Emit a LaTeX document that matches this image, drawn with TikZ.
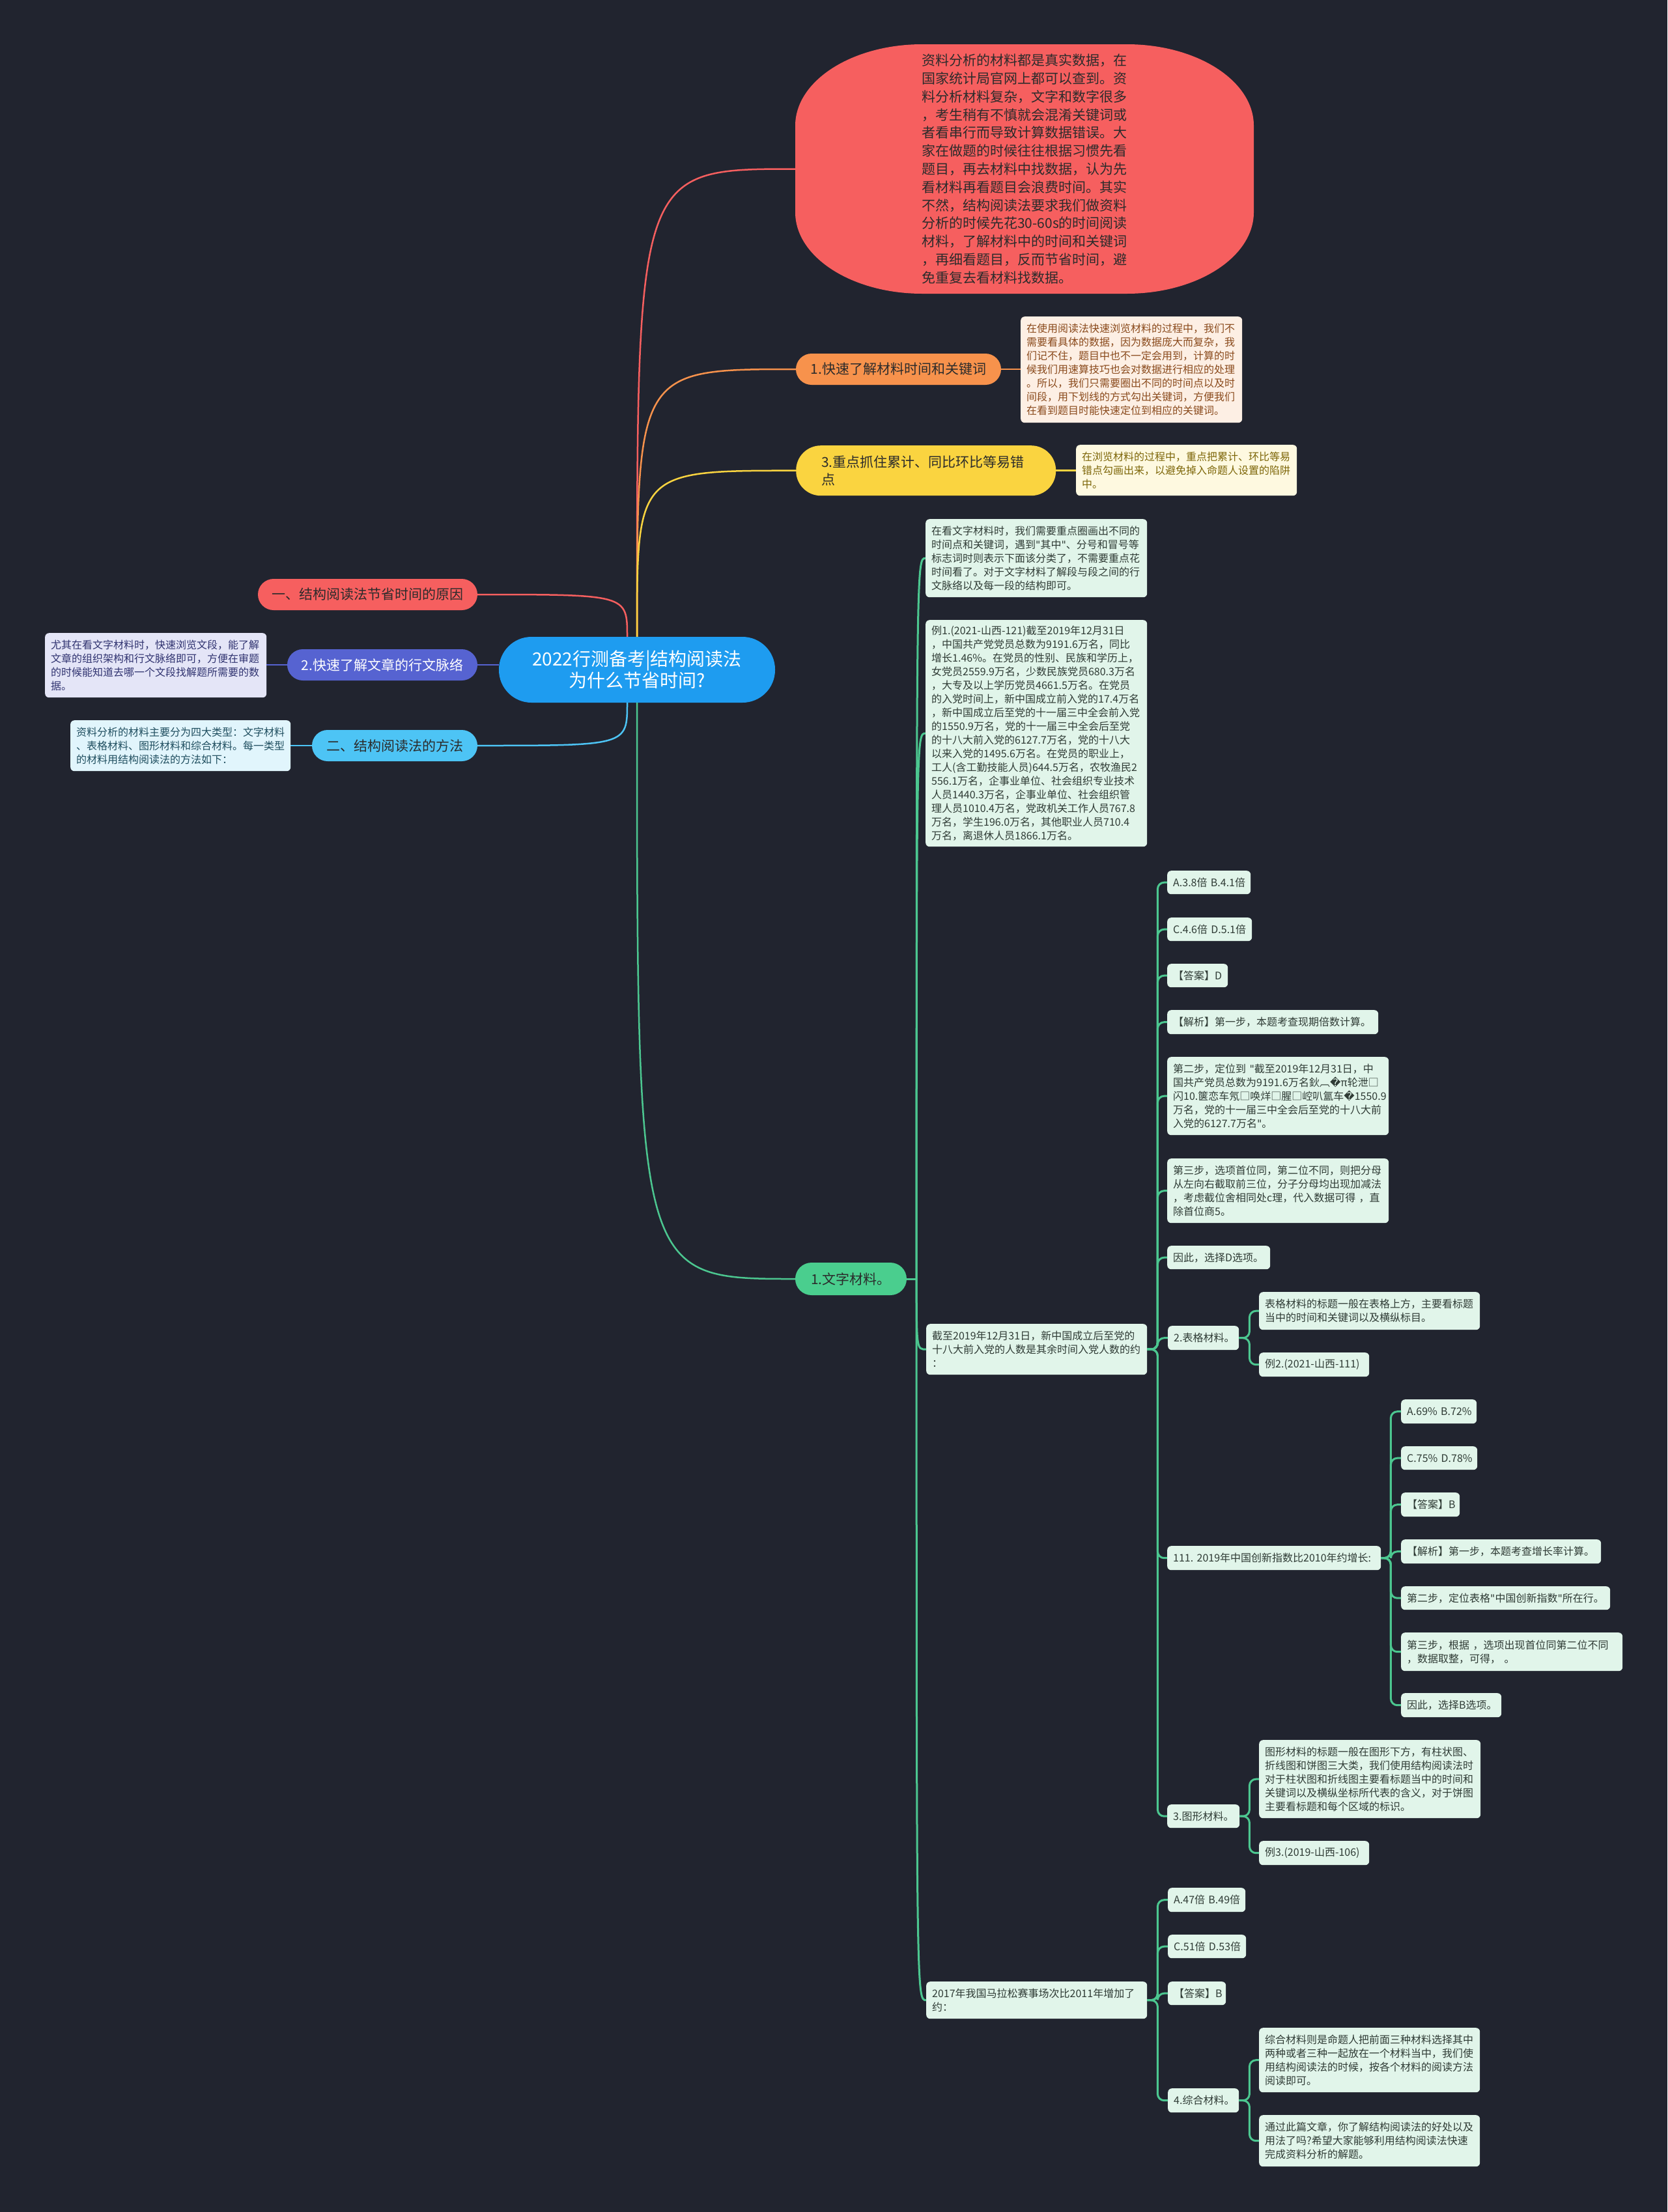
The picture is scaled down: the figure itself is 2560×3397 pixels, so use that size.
\documentclass[tikz,border=0pt]{standalone}
\usepackage{fontspec}
\setmainfont{Noto Sans CJK SC}
\newfontfamily\symfnt{DejaVu Sans}
\usetikzlibrary{positioning}
\definecolor{bgdark}{HTML}{21242F}
\definecolor{redfill}{HTML}{F65F5F}
\definecolor{orangefill}{HTML}{F7924C}
\definecolor{yellowfill}{HTML}{FAD440}
\definecolor{rootblue}{HTML}{1E9CF0}
\definecolor{indigofill}{HTML}{5663D1}
\definecolor{skyfill}{HTML}{4DC4F5}
\definecolor{greenfill}{HTML}{4ACE8E}
\definecolor{linegreen}{HTML}{4CC790}
\definecolor{mintfill}{HTML}{E1F5EA}
\definecolor{minttext}{HTML}{2F3B35}
\definecolor{pilltext}{HTML}{2B2B2B}
\definecolor{peachfill}{HTML}{FDEFE4}
\definecolor{peachtext}{HTML}{8A4A1C}
\definecolor{creamfill}{HTML}{FEF9E0}
\definecolor{creamtext}{HTML}{7D6608}
\definecolor{lavfill}{HTML}{E4E5F7}
\definecolor{lavtext}{HTML}{303370}
\definecolor{icefill}{HTML}{E1F5FC}
\definecolor{icetext}{HTML}{1F4E5F}
\newcommand{\rep}{{\symfnt\symbol{"FFFD}}}
\newcommand{\dq}{{\symfnt\symbol{"22}}}
\tikzset{
  pillnode/.style={rounded corners=24pt, minimum height=48pt, inner sep=0pt,
    text=pilltext, font=\fontsize{21}{26.7}\selectfont},
  notebox/.style={rounded corners=6pt, anchor=north west, align=left,
    inner xsep=9pt, inner ysep=4pt, font=\fontsize{16}{21}\selectfont},
  leafbox/.style={notebox, fill=mintfill, text=minttext},
  greenline/.style={draw=linegreen, line width=3pt, rounded corners=10pt},
  rootline/.style={line width=2.5pt},
}

\begin{document}
\begin{tikzpicture}[x=1pt,y=-1pt]
\useasboundingbox (0,0) rectangle (2560,3397);
\fill[bgdark] (0,0) rectangle (2560,3397);

% centre topic
\node[pillnode, fill=rootblue, text=white, minimum width=424pt, minimum height=101pt,
  rounded corners=50pt, align=center, font=\fontsize{28}{33}\selectfont]
  (root) at (978,1028.5) {2022行测备考|结构阅读法\\为什么节省时间?};

% red balloon on top
\fill[redfill] (1416,68) -- (1730,68) .. controls (1837.7,68) and (1925,124) .. (1925,193)
  -- (1925,326) .. controls (1925,395) and (1837.7,451) .. (1730,451)
  -- (1416,451) .. controls (1308.3,451) and (1221,395) .. (1221,326)
  -- (1221,193) .. controls (1221,124) and (1308.3,68) .. (1416,68) -- cycle;
\node[minimum width=704pt, minimum height=383pt, inner sep=0pt, align=left,
  text=pilltext, font=\fontsize{21}{27.8}\selectfont] (why) at (1573,259.5)
  {资料分析的材料都是真实数据，在\\国家统计局官网上都可以查到。资\\料分析材料复杂，文字和数字很多\\，考生稍有不慎就会混淆关键词或\\者看串行而导致计算数据错误。大\\家在做题的时候往往根据习惯先看\\题目，再去材料中找数据，认为先\\看材料再看题目会浪费时间。其实\\不然，结构阅读法要求我们做资料\\分析的时候先花30-60s的时间阅读\\材料，了解材料中的时间和关键词\\，再细看题目，反而节省时间，避\\免重复去看材料找数据。};

% right branches
\node[pillnode, fill=orangefill, minimum width=315pt] (kuaisu) at (1379.5,567) {1.快速了解材料时间和关键词};
\node[notebox, fill=peachfill, text=peachtext, text width=322pt, minimum height=163pt] (kuaisunote) at (1567,486)
  {在使用阅读法快速浏览材料的过程中，我们不\\需要看具体的数据，因为数据庞大而复杂，我\\们记不住，题目中也不一定会用到，计算的时\\候我们用速算技巧也会对数据进行相应的处理\\。所以，我们只需要圈出不同的时间点以及时\\间段，用下划线的方式勾出关键词，方便我们\\在看到题目时能快速定位到相应的关键词。};
\node[pillnode, fill=yellowfill, anchor=north west, minimum width=399pt, minimum height=77pt,
  rounded corners=38pt, align=left, text width=321pt, inner xsep=39pt] (zhongdian) at (1222,684)
  {3.重点抓住累计、同比环比等易错\\点};
\node[notebox, fill=creamfill, text=creamtext, text width=321pt, minimum height=78pt] (zhongdiannote) at (1652,683)
  {在浏览材料的过程中，重点把累计、环比等易\\错点勾画出来，以避免掉入命题人设置的陷阱\\中。};
\node[pillnode, fill=greenfill, minimum width=171pt, minimum height=50pt, rounded corners=25pt] (wenzi) at (1306.5,1964) {1.文字材料。};

% left branches
\node[pillnode, fill=redfill, minimum width=337pt] (yuanyin) at (564.5,913) {一、结构阅读法节省时间的原因};
\node[pillnode, fill=indigofill, text=white, minimum width=292pt] (mailuo) at (587,1021) {2.快速了解文章的行文脉络};
\node[notebox, fill=lavfill, text=lavtext, text width=322pt, minimum height=99pt] (mailuonote) at (69,972)
  {尤其在看文字材料时，快速浏览文段，能了解\\文章的组织架构和行文脉络即可，方便在审题\\的时候能知道去哪一个文段找解题所需要的数\\据。};
\node[pillnode, fill=skyfill, minimum width=254pt] (fangfa) at (606,1145) {二、结构阅读法的方法};
\node[notebox, fill=icefill, text=icetext, text width=320pt, minimum height=78pt] (fangfanote) at (108,1106)
  {资料分析的材料主要分为四大类型：文字材料\\、表格材料、图形材料和综合材料。每一类型\\的材料用结构阅读法的方法如下：};

% text material
\node[leafbox, text width=322pt, minimum height=120pt] (wzjs) at (1421,797)
  {在看文字材料时，我们需要重点圈画出不同的\\时间点和关键词，遇到\dq 其中\dq 、分号和冒号等\\标志词时则表示下面该分类了，不需要重点花\\时间看了。对于文字材料了解段与段之间的行\\文脉络以及每一段的结构即可。};
\node[leafbox, text width=322pt, minimum height=348pt] (li1) at (1421,952)
  {例1.(2021-山西-121)截至2019年12月31日\\，中国共产党党员总数为9191.6万名，同比\\增长1.46\%。在党员的性别、民族和学历上，\\女党员2559.9万名，少数民族党员680.3万名\\，大专及以上学历党员4661.5万名。在党员\\的入党时间上，新中国成立前入党的17.4万名\\，新中国成立后至党的十一届三中全会前入党\\的1550.9万名，党的十一届三中全会后至党\\的十八大前入党的6127.7万名，党的十八大\\以来入党的1495.6万名。在党员的职业上，\\工人(含工勤技能人员)644.5万名，农牧渔民2\\556.1万名，企事业单位、社会组织专业技术\\人员1440.3万名，企事业单位、社会组织管\\理人员1010.4万名，党政机关工作人员767.8\\万名，学生196.0万名，其他职业人员710.4\\万名，离退休人员1866.1万名。};
\node[leafbox, text width=321pt, minimum height=78pt] (jiezhi) at (1422,2033)
  {截至2019年12月31日，新中国成立后至党的\\十八大前入党的人数是其余时间入党人数的约\\：};
\node[leafbox, text width=321pt, minimum height=57pt] (malasong) at (1422,3043)
  {2017年我国马拉松赛事场次比2011年增加了\\约：};

% question 1
\node[leafbox, text width=110pt, minimum height=36pt] (q1a) at (1792,1337) {A.3.8倍~B.4.1倍};
\node[leafbox, text width=112pt, minimum height=36pt] (q1b) at (1792,1409) {C.4.6倍~D.5.1倍};
\node[leafbox, text width=75pt, minimum height=36pt] (q1c) at (1792,1480) {【答案】D};
\node[leafbox, text width=306pt, minimum height=37pt] (q1d) at (1792,1551) {【解析】第一步，本题考查现期倍数计算。};
\node[leafbox, text width=322pt, minimum height=120pt] (q1e) at (1792,1623)
  {第二步，定位到~\dq 截至2019年12月31日，中\\国共产党员总数为9191.6万名鈥︹\rep π轮泄□\\闪10.箧恋车氖□唤烊□腥□崆叭氲车\rep 1550.9\\万名，党的十一届三中全会后至党的十八大前\\入党的6127.7万名\dq 。};
\node[leafbox, text width=322pt, minimum height=99pt] (q1f) at (1792,1779)
  {第三步，选项首位同，第二位不同，则把分母\\从左向右截取前三位，分子分母均出现加减法\\，考虑截位舍相同处c理，代入数据可得~，直\\除首位商5。};
\node[leafbox, text width=140pt, minimum height=36pt] (q1g) at (1792,1913) {因此，选择D选项。};
\node[leafbox, text width=91pt, minimum height=37pt] (biaoge) at (1793,2036) {2.表格材料。};
\node[leafbox, text width=310pt, minimum height=37pt] (q2) at (1792,2374) {111.~2019年中国创新指数比2010年约增长:};
\node[leafbox, text width=93pt, minimum height=36pt] (tuxing) at (1792,2771) {3.图形材料。};

% table material
\node[leafbox, text width=321pt, minimum height=58pt] (bg1) at (1933,1984)
  {表格材料的标题一般在表格上方，主要看标题\\当中的时间和关键词以及横纵标目。};
\node[leafbox, text width=151pt, minimum height=37pt] (bg2) at (1933,2077) {例2.(2021-山西-111)};

% question 2
\node[leafbox, text width=98pt, minimum height=37pt] (r1) at (2151,2149) {A.69\%~B.72\%};
\node[leafbox, text width=99pt, minimum height=36pt] (r2) at (2151,2221) {C.75\%~D.78\%};
\node[leafbox, text width=72pt, minimum height=37pt] (r3) at (2151,2292) {【答案】B};
\node[leafbox, text width=289pt, minimum height=37pt] (r4) at (2151,2364) {【解析】第一步，本题考查增长率计算。};
\node[leafbox, text width=303pt, minimum height=36pt] (r5) at (2151,2436) {第二步，定位表格\dq 中国创新指数\dq 所在行。};
\node[leafbox, text width=322pt, minimum height=59pt] (r6) at (2151,2507)
  {第三步，根据~，选项出现首位同第二位不同\\，数据取整，可得，~。};
\node[leafbox, text width=136pt, minimum height=37pt] (r7) at (2151,2600) {因此，选择B选项。};

% figure material
\node[leafbox, text width=322pt, minimum height=120pt] (tx1) at (1933,2672)
  {图形材料的标题一般在图形下方，有柱状图、\\折线图和饼图三大类，我们使用结构阅读法时\\对于柱状图和折线图主要看标题当中的时间和\\关键词以及横纵坐标所代表的含义，对于饼图\\主要看标题和每个区域的标识。};
\node[leafbox, text width=151pt, minimum height=37pt] (tx2) at (1933,2827) {例3.(2019-山西-106)};

% question 3 and mixed material
\node[leafbox, text width=101pt, minimum height=37pt] (s1) at (1793,2899) {A.47倍~B.49倍};
\node[leafbox, text width=102pt, minimum height=36pt] (s2) at (1793,2971) {C.51倍~D.53倍};
\node[leafbox, text width=71pt, minimum height=36pt] (s3) at (1793,3043) {【答案】B};
\node[leafbox, text width=91pt, minimum height=37pt] (zonghe) at (1793,3207) {4.综合材料。};
\node[leafbox, text width=321pt, minimum height=99pt] (zh1) at (1933,3114)
  {综合材料则是命题人把前面三种材料选择其中\\两种或者三种一起放在一个材料当中，我们使\\用结构阅读法的时候，按各个材料的阅读方法\\阅读即可。};
\node[leafbox, text width=321pt, minimum height=79pt] (zh2) at (1933,3248)
  {通过此篇文章，你了解结构阅读法的好处以及\\用法了吗?希望大家能够利用结构阅读法快速\\完成资料分析的解题。};

% connectors from the centre topic
\coordinate (rootnw) at ([xshift=-15pt]root.north);
\coordinate (rootsw) at ([xshift=-15pt]root.south);
\draw[rootline, redfill] (root.north) .. controls (root.north |- why.west) .. (why.west);
\draw[rootline, orangefill] (root.north) .. controls (root.north |- kuaisu.west) .. (kuaisu.west);
\draw[rootline, yellowfill] (root.north) .. controls (root.north |- zhongdian.west) .. (zhongdian.west);
\draw[rootline, linegreen] (root.south) .. controls (root.south |- wenzi.west) .. (wenzi.west);
\draw[rootline, redfill] (rootnw) .. controls (rootnw |- yuanyin.east) .. (yuanyin.east);
\draw[rootline, indigofill] (mailuo.east) -- (mailuo.east -| root.west);
\draw[rootline, skyfill] (rootsw) .. controls (rootsw |- fangfa.east) .. (fangfa.east);

% branch to note
\draw[rootline, orangefill] (kuaisu.east) -- (kuaisu.east -| kuaisunote.west);
\draw[rootline, yellowfill] (zhongdian.east) -- (zhongdian.east -| zhongdiannote.west);
\draw[rootline, indigofill] (mailuo.west) -- (mailuo.west -| mailuonote.east);
\draw[rootline, skyfill] (fangfa.west) -- (fangfa.west -| fangfanote.east);

% text material tree
\coordinate (wzj) at ([xshift=15pt]wenzi.east);
\draw[greenline] (wenzi.east) -- (wzj);
\foreach \n in {wzjs,li1,jiezhi,malasong}
  \draw[greenline] (wzj) .. controls (wzj |- \n.west) .. (\n.west);
\foreach \n in {q1a,q1b,q1c,q1d,q1e,q1f,q1g,biaoge,q2,tuxing}
  \draw[greenline] (jiezhi.east) -- ++(16,0) |- (\n.west);
\foreach \n in {bg1,bg2}
  \draw[greenline] (biaoge.east) -- ++(16,0) |- (\n.west);
\foreach \n in {r1,r2,r3,r4,r5,r6,r7}
  \draw[greenline] (q2.east) -- ++(15,0) |- (\n.west);
\foreach \n in {tx1,tx2}
  \draw[greenline] (tuxing.east) -- ++(15,0) |- (\n.west);
\foreach \n in {s1,s2,s3,zonghe}
  \draw[greenline] (malasong.east) -- ++(16,0) |- (\n.west);
\foreach \n in {zh1,zh2}
  \draw[greenline] (zonghe.east) -- ++(16,0) |- (\n.west);
\end{tikzpicture}
\end{document}
